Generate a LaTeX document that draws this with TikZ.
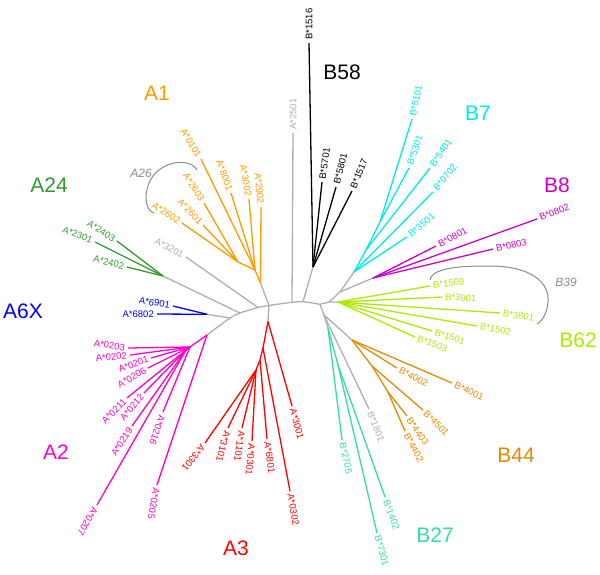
\documentclass[tikz,border=0pt]{standalone}
\usepackage{fontspec}
\setmainfont{Liberation Sans}
\definecolor{cAone}{RGB}{255,153,0}
\definecolor{cAtwofour}{RGB}{51,153,51}
\definecolor{cAsix}{RGB}{0,0,255}
\definecolor{cAtwo}{RGB}{255,0,204}
\definecolor{cAthree}{RGB}{255,0,0}
\definecolor{cGray}{RGB}{175,175,175}
\definecolor{cArc}{RGB}{140,140,140}
\definecolor{cBseven}{RGB}{0,235,235}
\definecolor{cBeight}{RGB}{204,0,204}
\definecolor{cBsixtwo}{RGB}{170,235,0}
\definecolor{cBfourfour}{RGB}{224,140,0}
\definecolor{cBtwoseven}{RGB}{51,221,170}

\begin{document}
\begin{tikzpicture}[x=1pt,y=-1pt,
    br/.style={line width=1.3pt},
    leaf/.style={font=\fontsize{9.5}{10}\selectfont, inner sep=3pt},
    clade/.style={font=\fontsize{21}{21}\selectfont},
    note/.style={font=\fontsize{12}{12}\selectfont\itshape, cArc}]
    \useasboundingbox (0,0) rectangle (600,574);

    \coordinate (n1) at (230,318);
    \coordinate (n2) at (240,313);
    \coordinate (n3) at (258,307.5);
    \coordinate (n4) at (269,305.5);
    \coordinate (n5) at (292,302.3);
    \coordinate (n6) at (303,301.7);
    \coordinate (n7) at (320,304.3);
    \coordinate (n8) at (329,302);
    \coordinate (n9) at (340,292);
    \coordinate (n10) at (324,315);
    \coordinate (a6) at (207,314.3);
    \coordinate (a2) at (207,335);
    \coordinate (a2n) at (190,347);
    \coordinate (a2m) at (186,350);
    \coordinate (a24) at (163,276);
    \coordinate (a1) at (260.5,283);
    \coordinate (a1n) at (255,270);
    \coordinate (a26n) at (238,262);
    \coordinate (a3) at (268,321.5);
    \coordinate (a3n) at (263,348);
    \coordinate (a3m) at (260,360);
    \coordinate (a3k) at (256,370);
    \coordinate (b58) at (313,267);
    \coordinate (b7) at (354,272);
    \coordinate (b7n) at (366,250);
    \coordinate (b7m) at (380,222);
    \coordinate (b8) at (373,278);
    \coordinate (b62) at (338,302);
    \coordinate (b27) at (328,328);
    \coordinate (b27n) at (338,365);
    \coordinate (b44) at (352,340);
    \coordinate (b44n) at (372,366);
    \coordinate (b44m) at (388,392);

    % A side
    \node[leaf,cAone,rotate=-58,anchor=east] (a0101) at (201,159) {A*0101};
    \node[leaf,cAone,rotate=-70,anchor=east] (a8001) at (231,193) {A*8001};
    \node[leaf,cAone,rotate=-80,anchor=east] (a3002) at (249,199) {A*3002};
    \node[leaf,cAone,rotate=-85,anchor=east] (a2902) at (261,207) {A*2902};
    \node[leaf,cAone,rotate=-57,anchor=east] (a2603) at (204,203) {A*2603};
    \node[leaf,cAone,rotate=-47,anchor=east] (a2601) at (203,225) {A*2601};
    \node[leaf,cAone,rotate=-33,anchor=east] (a2602) at (182,223) {A*2602};
    \node[leaf,cGray,rotate=-28,anchor=east] (a3201) at (186,257) {A*3201};
    \node[leaf,cGray,rotate=90,anchor=west] (a2501) at (293,133) {A*2501};
    \node[leaf,cAtwofour,rotate=-33,anchor=east] (a2403) at (117,241) {A*2403};
    \node[leaf,cAtwofour,rotate=-22,anchor=east] (a2301) at (95,242) {A*2301};
    \node[leaf,cAtwofour,rotate=-14,anchor=east] (a2402) at (127,267) {A*2402};
    \node[leaf,cAsix,rotate=-10,anchor=east] (a6901) at (173,306) {A*6901};
    \node[leaf,cAsix,anchor=east] (a6802) at (157,314) {A*6802};
    \node[leaf,cAtwo,rotate=-8,anchor=east] (a0203) at (128,348) {A*0203};
    \node[leaf,cAtwo,rotate=6,anchor=east] (a0202) at (130,355) {A*0202};
    \node[leaf,cAtwo,rotate=20,anchor=east] (a0201) at (151,358) {A*0201};
    \node[leaf,cAtwo,rotate=30,anchor=east] (a0206) at (148,368) {A*0206};
    \node[leaf,cAtwo,rotate=45,anchor=east] (a0211) at (127,398) {A*0211};
    \node[leaf,cAtwo,rotate=50,anchor=east] (a0212) at (144,393) {A*0212};
    \node[leaf,cAtwo,rotate=57,anchor=east] (a0219) at (132,426) {A*0219};
    \node[leaf,cAtwo,rotate=-108,anchor=west] (a0216) at (163,412) {A*0216};
    \node[leaf,cAtwo,rotate=-120,anchor=west] (a0207) at (97,505) {A*0207};
    \node[leaf,cAtwo,rotate=-100,anchor=west] (a0205) at (157,485) {A*0205};
    \node[leaf,cAthree,rotate=-75,anchor=west] (a3001) at (292,406) {A*3001};
    \node[leaf,cAthree,rotate=-80,anchor=west] (a0302) at (290,491) {A*0302};
    \node[leaf,cAthree,rotate=-82,anchor=west] (a6801) at (267,439) {A*6801};
    \node[leaf,cAthree,rotate=-95,anchor=west] (a0301) at (252,441) {A*0301};
    \node[leaf,cAthree,rotate=-98,anchor=west] (a1101) at (242,428) {A*1101};
    \node[leaf,cAthree,rotate=-105,anchor=west] (a3101) at (228,428) {A*3101};
    \node[leaf,cAthree,rotate=-128,anchor=west] (a3301) at (205,443) {A*3301};

    % B side
    \node[leaf,black,rotate=90,anchor=west] (b1516) at (309,43) {B*1516};
    \node[leaf,black,rotate=82,anchor=west] (b5701) at (322,182) {B*5701};
    \node[leaf,black,rotate=76,anchor=west] (b5801) at (336,187) {B*5801};
    \node[leaf,black,rotate=68,anchor=west] (b1517) at (352,191) {B*1517};
    \node[leaf,cBseven,rotate=78,anchor=west] (b5101) at (412,119) {B*5101};
    \node[leaf,cBseven,rotate=72,anchor=west] (b5301) at (409,168) {B*5301};
    \node[leaf,cBseven,rotate=55,anchor=west] (b5401) at (430,168) {B*5401};
    \node[leaf,cBseven,rotate=50,anchor=west] (b0702) at (433,192) {B*0702};
    \node[leaf,cBseven,rotate=40,anchor=west] (b3501) at (407,237) {B*3501};
    \node[leaf,cBeight,rotate=28,anchor=west] (b0801) at (436,246) {B*0801};
    \node[leaf,cBeight,rotate=22,anchor=west] (b0802) at (537,219) {B*0802};
    \node[leaf,cBeight,rotate=12,anchor=west] (b0803) at (493,249) {B*0803};
    \node[leaf,cBsixtwo,rotate=8,anchor=west] (b1509) at (430,286) {B*1509};
    \node[leaf,cBsixtwo,rotate=-3,anchor=west] (b3901) at (442,297) {B*3901};
    \node[leaf,cBsixtwo,rotate=-8,anchor=west] (b3801) at (500,313) {B*3801};
    \node[leaf,cBsixtwo,rotate=-10,anchor=west] (b1502) at (477,326) {B*1502};
    \node[leaf,cBsixtwo,rotate=-18,anchor=west] (b1501) at (432,331) {B*1501};
    \node[leaf,cBsixtwo,rotate=-22,anchor=west] (b1503) at (415,337) {B*1503};
    \node[leaf,cBfourfour,rotate=-28,anchor=west] (b4002) at (397,368) {B*4002};
    \node[leaf,cBfourfour,rotate=-25,anchor=west] (b4001) at (452,383) {B*4001};
    \node[leaf,cBfourfour,rotate=-45,anchor=west] (b4501) at (423,410) {B*4501};
    \node[leaf,cBfourfour,rotate=-55,anchor=west] (b4403) at (407,416) {B*4403};
    \node[leaf,cBfourfour,rotate=-62,anchor=west] (b4402) at (405,431) {B*4402};
    \node[leaf,cGray,rotate=-68,anchor=west] (b1801) at (369,409) {B*1801};
    \node[leaf,cBtwoseven,rotate=-78,anchor=west] (b2705) at (342,440) {B*2705};
    \node[leaf,cBtwoseven,rotate=-70,anchor=west] (b1402) at (385,497) {B*1402};
    \node[leaf,cBtwoseven,rotate=-75,anchor=west] (b7301) at (377,533) {B*7301};

    % groups
    \node[clade,cAone] (tAone) at (157,93) {A1};
    \node[clade,cAtwofour] (tAtwofour) at (49,185) {A24};
    \node[clade,cAsix] (tAsix) at (23,311) {A6X};
    \node[clade,cAtwo] (tAtwo) at (56,452) {A2};
    \node[clade,cAthree] (tAthree) at (236,548) {A3};
    \node[clade,black] (tBfiveeight) at (342,72) {B58};
    \node[clade,cBseven] (tBseven) at (478,113) {B7};
    \node[clade,cBeight] (tBeight) at (557,185) {B8};
    \node[clade,cBsixtwo] (tBsixtwo) at (578,340) {B62};
    \node[clade,cBfourfour] (tBfourfour) at (516,455) {B44};
    \node[clade,cBtwoseven] (tBtwoseven) at (435,535) {B27};
    \node[note] (tAtwosix) at (141,173) {A26};
    \node[note] (tBthreenine) at (566,282) {B39};

    \draw[line width=1pt,cArc] (197,170) .. controls (193,160) and (167,158) .. (153,176) .. controls (143,190) and (144,210) .. (154,213);
    \draw[line width=1pt,cArc] (430,280) .. controls (432,266) and (470,266) .. (490,266) .. controls (530,266) and (550,282) .. (548,302) .. controls (547,314) and (542,321) .. (537,324);

    % backbone
    \draw[br,cGray] plot[smooth] coordinates {(a2) (n1) (n2) (n3) (n4) (n5) (n6) (n7)};
    \draw[br,cGray] (n7) -- (n8) -- (b62);
    \draw[br,cGray] (n1) -- (a6);
    \draw[br,cGray] (n2) -- (a24);
    \draw[br,cGray] (n3) -- (a3201.east);
    \draw[br,cGray] (n4) -- (a1);
    \draw[br,cGray] (n4) -- (a3);
    \draw[br,cGray] (n5) -- (a2501.west);
    \draw[br,cGray] (n6) -- (b58);
    \draw[br,cGray] (n8) -- (n9) -- (b7);
    \draw[br,cGray] (n9) -- (b8);
    \draw[br,cGray] (n7) -- (n10) -- (b27);
    \draw[br,cGray] (n10) -- (b44);
    \draw[br,cGray] (n10) -- (b1801.west);

    \draw[br,cAone] (a1) -- (a2902.east);
    \draw[br,cAone] (a1) -- (a1n) -- (a3002.east);
    \draw[br,cAone] (a1n) -- (a8001.east);
    \draw[br,cAone] (a1n) -- (a0101.east);
    \draw[br,cAone] (a1n) -- (a26n) -- (a2603.east);
    \draw[br,cAone] (a26n) -- (a2601.east);
    \draw[br,cAone] (a26n) -- (a2602.east);
    \draw[br,cAtwofour] (a24) -- (a2403.east);
    \draw[br,cAtwofour] (a24) -- (a2301.east);
    \draw[br,cAtwofour] (a24) -- (a2402.east);
    \draw[br,cAsix] (a6) -- (a6901.east);
    \draw[br,cAsix] (a6) -- (a6802.east);
    \draw[br,cAtwo] (a2) -- (a0205.west);
    \draw[br,cAtwo] (a2) -- (a2n) -- (a0203.east);
    \draw[br,cAtwo] (a2n) -- (a0202.east);
    \draw[br,cAtwo] (a2n) -- (a0201.east);
    \draw[br,cAtwo] (a2n) -- (a0206.east);
    \draw[br,cAtwo] (a2n) -- (a0216.west);
    \draw[br,cAtwo] (a2n) -- (a2m) -- (a0211.east);
    \draw[br,cAtwo] (a2m) -- (a0212.east);
    \draw[br,cAtwo] (a2m) -- (a0219.east);
    \draw[br,cAtwo] (a2m) -- (a0207.west);
    \draw[br,cAthree] (a3) -- (a3001.west);
    \draw[br,cAthree] (a3) -- (a3n) -- (a0302.west);
    \draw[br,cAthree] (a3n) -- (a3m) -- (a6801.west);
    \draw[br,cAthree] (a3m) -- (a3k) -- (a0301.west);
    \draw[br,cAthree] (a3k) -- (a1101.west);
    \draw[br,cAthree] (a3k) -- (a3101.west);
    \draw[br,cAthree] (a3k) -- (a3301.west);

    \draw[br,black] (b58) -- (b1516.west);
    \draw[br,black] (b58) -- (b5701.west);
    \draw[br,black] (b58) -- (b5801.west);
    \draw[br,black] (b58) -- (b1517.west);
    \draw[br,cBseven] (b7) -- (b3501.west);
    \draw[br,cBseven] (b7) -- (b0702.west);
    \draw[br,cBseven] (b7) -- (b7n) -- (b5401.west);
    \draw[br,cBseven] (b7n) -- (b7m) -- (b5101.west);
    \draw[br,cBseven] (b7m) -- (b5301.west);
    \draw[br,cBeight] (b8) -- (b0801.west);
    \draw[br,cBeight] (b8) -- (b0802.west);
    \draw[br,cBeight] (b8) -- (b0803.west);
    \draw[br,cBsixtwo] (b62) -- (b1509.west);
    \draw[br,cBsixtwo] (b62) -- (b3901.west);
    \draw[br,cBsixtwo] (b62) -- (b3801.west);
    \draw[br,cBsixtwo] (b62) -- (b1502.west);
    \draw[br,cBsixtwo] (b62) -- (b1501.west);
    \draw[br,cBsixtwo] (b62) -- (b1503.west);
    \draw[br,cBfourfour] (b44) -- (b4002.west);
    \draw[br,cBfourfour] (b44) -- (b4001.west);
    \draw[br,cBfourfour] (b44) -- (b44n) -- (b4501.west);
    \draw[br,cBfourfour] (b44n) -- (b44m) -- (b4403.west);
    \draw[br,cBfourfour] (b44m) -- (b4402.west);
    \draw[br,cBtwoseven] (b27) -- (b2705.west);
    \draw[br,cBtwoseven] (b27) -- (b27n) -- (b1402.west);
    \draw[br,cBtwoseven] (b27n) -- (b7301.west);
\end{tikzpicture}
\end{document}
